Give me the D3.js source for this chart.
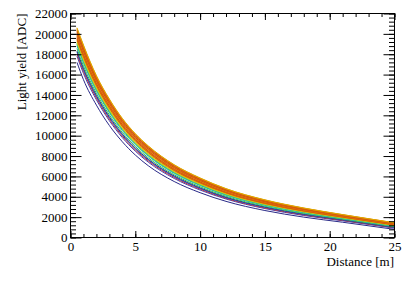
<!DOCTYPE html>
<head>
  <meta charset="utf-8">
  <script src="https://d3js.org/d3.v7.min.js"></script>
  <style>
    body { margin:0; background:#fff; }
    svg, svg text { font-family: "Liberation Serif", "Times New Roman", Times, serif; }
  </style>
</head>
<body>
<svg width="415" height="281"></svg>

<script>
  var distance = [0.5, 1, 2, 3, 4, 5, 6, 8, 10, 12, 15, 18, 21, 25];

  // light yield (ADC), one row per curve, lowest first
  var yields = [
    [17200, 15500, 13000, 11000, 9400, 8100, 7050, 5500, 4400, 3550, 2650, 2000, 1500, 800],
    [17810, 16110, 13520, 11470, 9810, 8480, 7400, 5800, 4660, 3780, 2840, 2160, 1640, 920],
    [18020, 16320, 13700, 11620, 9950, 8600, 7520, 5900, 4750, 3850, 2900, 2220, 1680, 960],
    [18190, 16490, 13840, 11750, 10070, 8710, 7620, 5980, 4820, 3910, 2960, 2260, 1720, 990],
    [18320, 16620, 13960, 11860, 10160, 8790, 7690, 6050, 4880, 3960, 3000, 2300, 1750, 1020],
    [18560, 16860, 14160, 12040, 10320, 8940, 7830, 6160, 4980, 4050, 3070, 2360, 1800, 1060],
    [18830, 17130, 14390, 12250, 10500, 9110, 7990, 6290, 5100, 4150, 3150, 2430, 1860, 1110],
    [18970, 17270, 14510, 12350, 10600, 9190, 8060, 6360, 5150, 4200, 3200, 2470, 1890, 1140],
    [19070, 17370, 14600, 12430, 10670, 9260, 8120, 6410, 5200, 4240, 3230, 2500, 1910, 1160],
    [19170, 17470, 14680, 12510, 10730, 9320, 8180, 6460, 5240, 4280, 3260, 2520, 1940, 1180],
    [19310, 17610, 14800, 12610, 10830, 9400, 8260, 6520, 5300, 4330, 3300, 2560, 1970, 1200],
    [19410, 17710, 14890, 12690, 10900, 9470, 8320, 6570, 5340, 4360, 3330, 2590, 1990, 1220],
    [19510, 17810, 14970, 12770, 10960, 9530, 8380, 6620, 5390, 4400, 3360, 2610, 2010, 1240],
    [19610, 17910, 15060, 12850, 11030, 9590, 8440, 6670, 5430, 4440, 3400, 2640, 2030, 1260],
    [19720, 18020, 15150, 12920, 11100, 9650, 8490, 6720, 5470, 4480, 3430, 2670, 2060, 1280],
    [19820, 18120, 15230, 13000, 11170, 9720, 8550, 6770, 5520, 4510, 3460, 2690, 2080, 1300],
    [19920, 18220, 15320, 13080, 11240, 9780, 8610, 6820, 5560, 4550, 3490, 2720, 2100, 1320],
    [20020, 18320, 15410, 13160, 11310, 9840, 8670, 6870, 5600, 4590, 3520, 2750, 2120, 1340],
    [20120, 18420, 15490, 13240, 11380, 9910, 8730, 6920, 5650, 4630, 3550, 2770, 2150, 1360],
    [20230, 18530, 15580, 13310, 11450, 9970, 8790, 6970, 5690, 4660, 3590, 2800, 2170, 1380],
    [20330, 18630, 15670, 13390, 11520, 10030, 8840, 7020, 5730, 4700, 3620, 2830, 2190, 1400],
    [20430, 18730, 15760, 13470, 11590, 10100, 8900, 7070, 5780, 4740, 3650, 2860, 2210, 1420],
    [20530, 18830, 15840, 13550, 11650, 10160, 8960, 7120, 5820, 4780, 3680, 2880, 2240, 1440],
    [20600, 18900, 15900, 13600, 11700, 10200, 9000, 7150, 5850, 4800, 3700, 2900, 2250, 1450]
  ];

  var curveColors = ["#2a2a88", "#4040b8", "#d03020", "#3050c0", "#283898", "#40c040",
                     "#20c0d0", "#20a8a0", "#70d040", "#b0d020", "#e0c010", "#e88a00",
                     "#d04a10", "#e07a00", "#d44a10", "#d85a10", "#e89a00", "#d04a10",
                     "#d85810", "#e07000", "#d04a10", "#d85a10", "#e09000", "#e0a800"];

  var xMajor = [0, 5, 10, 15, 20, 25];
  var xMinor = d3.range(0, 26, 1);
  var yMajor = d3.range(0, 22001, 2000);
  var yMinor = d3.range(0, 22001, 400);

  var svg = d3.select("svg");

  var x = d3.scaleLinear().domain([0, 25]).range([70.5, 394.5]);
  var y = d3.scaleLinear().domain([0, 22000]).range([237.5, 13.5]);

  var line = d3.line()
    .x(function(d, i) { return x(distance[i]); })
    .y(function(d) { return y(d); })
    .curve(d3.curveMonotoneX);

  svg.append("g")
    .selectAll("path")
    .data(yields)
    .enter()
    .append("path")
    .attr("d", line)
    .attr("fill", "none")
    .attr("stroke", function(d, i) { return curveColors[i]; })
    .attr("stroke-width", 1);

  // axes, ROOT style: ticks pointing into the frame
  function styleAxis(g) {
    g.attr("font-family", null).attr("font-size", 13);
    g.selectAll("text").attr("fill", "#000");
    g.selectAll("line").attr("stroke", "#000");
    g.select(".domain").remove();
  }

  svg.append("g").attr("transform", "translate(0,237.5)")
    .call(d3.axisBottom(x).tickValues(xMinor).tickSize(-3.5).tickFormat(""))
    .call(styleAxis);
  svg.append("g").attr("transform", "translate(0,237.5)")
    .call(d3.axisBottom(x).tickValues(xMajor).tickSize(-6.5).tickPadding(4).tickFormat(d3.format("d")))
    .call(styleAxis);

  svg.append("g").attr("transform", "translate(0,13.5)")
    .call(d3.axisTop(x).tickValues(xMinor).tickSize(-3.5).tickFormat(""))
    .call(styleAxis);
  svg.append("g").attr("transform", "translate(0,13.5)")
    .call(d3.axisTop(x).tickValues(xMajor).tickSize(-6.5).tickFormat(""))
    .call(styleAxis);

  svg.append("g").attr("transform", "translate(70.5,0)")
    .call(d3.axisLeft(y).tickValues(yMinor).tickSize(-5.5).tickFormat(""))
    .call(styleAxis);
  svg.append("g").attr("transform", "translate(70.5,0)")
    .call(d3.axisLeft(y).tickValues(yMajor).tickSize(-11).tickPadding(3).tickFormat(d3.format("d")))
    .call(styleAxis);

  svg.append("g").attr("transform", "translate(394.5,0)")
    .call(d3.axisRight(y).tickValues(yMinor).tickSize(-5.5).tickFormat(""))
    .call(styleAxis);
  svg.append("g").attr("transform", "translate(394.5,0)")
    .call(d3.axisRight(y).tickValues(yMajor).tickSize(-11).tickFormat(""))
    .call(styleAxis);

  // frame
  svg.append("rect")
    .attr("x", 70.5).attr("y", 13.5)
    .attr("width", 324).attr("height", 224)
    .attr("fill", "none").attr("stroke", "#000");

  svg.append("text")
    .attr("x", 394).attr("y", 266)
    .attr("text-anchor", "end")
    .attr("font-size", 13)
    .text("Distance [m]");

  svg.append("text")
    .attr("transform", "translate(26,13.5) rotate(-90)")
    .attr("text-anchor", "end")
    .attr("font-size", 13)
    .text("Light yield [ADC]");
</script>
</body>
